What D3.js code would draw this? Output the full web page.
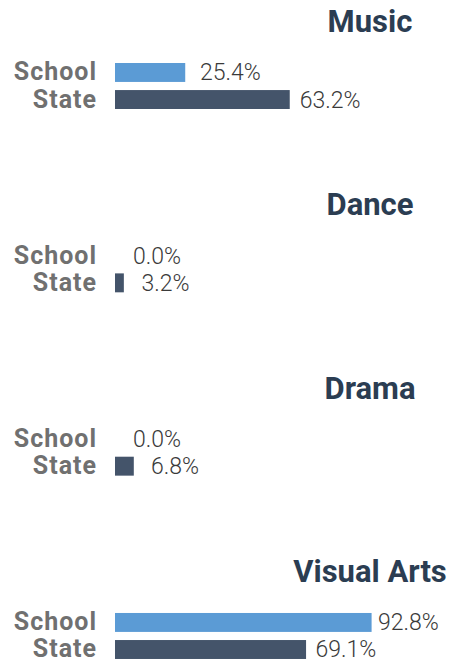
<!DOCTYPE html>
<html>
<head>
<meta charset="utf-8">
<script src="https://cdn.jsdelivr.net/npm/d3@7"></script>
<style>
  body { margin: 0; background: #fff; }
  svg { display: block; }
</style>
</head>
<body>
<div id="chart"></div>
<script>
// categories and values
const categories = ["Music", "Dance", "Drama", "Visual Arts"];
const groups = ["School", "State"];
const schoolValues = [25.4, 0.0, 0.0, 92.8];
const stateValues = [63.2, 3.2, 6.8, 69.1];

const W = 451, H = 663;
const colors = { School: "#5b9bd5", State: "#44546a" };

const svg = d3.select("#chart").append("svg")
  .attr("width", W)
  .attr("height", H);

// one panel per category, stacked vertically
const panelY = d3.scaleBand()
  .domain(categories)
  .range([0, 733.3]);

// rows inside a panel
const rowY = d3.scaleBand()
  .domain(groups)
  .range([63, 109])
  .paddingInner(0.3);

// bar length and label position
const x = d3.scaleLinear().domain([0, 100]).range([115, 391.5]);
const xLabel = d3.scaleLinear().domain([0, 100]).range([133, 397]);

const fmt = d => d.toFixed(1) + "%";

const data = categories.map((c, i) => ({
  category: c,
  rows: [
    { group: "School", value: schoolValues[i] },
    { group: "State", value: stateValues[i] }
  ]
}));

const panels = svg.selectAll(".panel")
  .data(data)
  .enter().append("g")
    .attr("class", "panel")
    .attr("transform", d => `translate(0,${panelY(d.category)})`);

panels.append("text")
  .attr("x", 370)
  .attr("y", 32)
  .attr("text-anchor", "middle")
  .style("font-family", "Roboto, sans-serif")
  .style("font-weight", "bold")
  .style("font-size", "31px")
  .style("fill", "#2b3d52")
  .text(d => d.category);

const rows = panels.selectAll(".row")
  .data(d => d.rows)
  .enter().append("g")
    .attr("class", "row");

rows.append("text")
  .attr("x", 97)
  .attr("y", d => rowY(d.group) + rowY.bandwidth() / 2 + 8)
  .attr("text-anchor", "end")
  .style("font-family", "Roboto, sans-serif")
  .style("font-weight", "bold")
  .style("font-size", "25px")
  .style("letter-spacing", "1px")
  .style("fill", "#707070")
  .text(d => d.group);

rows.append("rect")
  .attr("x", x(0))
  .attr("y", d => rowY(d.group))
  .attr("width", d => x(d.value) - x(0))
  .attr("height", rowY.bandwidth())
  .attr("fill", d => colors[d.group]);

rows.append("text")
  .attr("x", d => xLabel(d.value))
  .attr("y", d => rowY(d.group) + rowY.bandwidth() / 2 + 8)
  .style("font-family", "Roboto, sans-serif")
  .style("font-weight", "300")
  .style("font-size", "23px")
  .style("fill", "#3a3a3a")
  .text(d => fmt(d.value));
</script>
</body>
</html>
